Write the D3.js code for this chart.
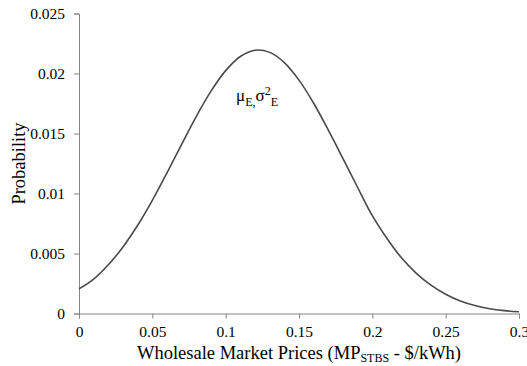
<!DOCTYPE html>
<html>
<head>
<meta charset="utf-8">
<script src="https://cdn.jsdelivr.net/npm/d3@7"></script>
<style>
  html, body { margin: 0; padding: 0; background: #fff; }
  svg { display: block; font-family: "Liberation Serif", "Times New Roman", serif; }
</style>
</head>
<body>
<svg id="chart" width="527" height="366"></svg>
<script>
// Wholesale market price (x, $/kWh) and probability density (y)
const prices = [0.00, 0.01, 0.02, 0.03, 0.04, 0.05, 0.06, 0.07, 0.08, 0.09,
                0.10, 0.11, 0.12, 0.13, 0.14, 0.15, 0.16, 0.17, 0.18, 0.19,
                0.20, 0.21, 0.22, 0.23, 0.24, 0.25, 0.26, 0.27, 0.28, 0.29, 0.30];
const probability = [0.00205, 0.00287, 0.00406, 0.00555, 0.00735, 0.00943, 0.01172, 0.01410, 0.01643, 0.01853,
                     0.02024, 0.02142, 0.02194, 0.02176, 0.02091, 0.01945, 0.01752, 0.01528, 0.01291, 0.01050,
                     0.00815, 0.00625, 0.00462, 0.00335, 0.00236, 0.00160, 0.00104, 0.00066, 0.00040, 0.00024, 0.00014];
const xTicks = [0, 0.05, 0.1, 0.15, 0.2, 0.25, 0.3];
const yTicks = [0, 0.005, 0.01, 0.015, 0.02, 0.025];
const xTickLabels = ["0", "0.05", "0.1", "0.15", "0.2", "0.25", "0.3"];
const yTickLabels = ["0", "0.005", "0.01", "0.015", "0.02", "0.025"];

const svg = d3.select("#chart");
const plotLeft = 79, plotRight = 519, plotTop = 13.5, plotBottom = 313.5;

const x = d3.scaleLinear().domain([0, 0.3]).range([plotLeft, plotRight]);
const y = d3.scaleLinear().domain([0, 0.025]).range([plotBottom, plotTop]);

const axisColor = "#868686";
const serif = "Liberation Serif, Times New Roman, serif";

// x axis
const gx = svg.append("g")
  .attr("transform", `translate(0,${plotBottom})`)
  .call(d3.axisBottom(x).tickValues(xTicks).tickSize(5).tickPadding(7)
        .tickFormat((d, i) => xTickLabels[i]));
gx.select(".domain").attr("stroke", axisColor);
gx.selectAll(".tick line").attr("stroke", axisColor);
gx.selectAll(".tick text").attr("fill", "#000").attr("font-size", "15.5px")
  .attr("font-family", serif);

// y axis
const gy = svg.append("g")
  .attr("transform", `translate(${plotLeft},0)`)
  .call(d3.axisLeft(y).tickValues(yTicks).tickSize(5).tickPadding(9)
        .tickFormat((d, i) => yTickLabels[i]));
gy.select(".domain").attr("stroke", axisColor);
gy.selectAll(".tick line").attr("stroke", axisColor);
gy.selectAll(".tick text").attr("fill", "#000").attr("font-size", "15.5px")
  .attr("font-family", serif);

// density curve
const points = prices.map((p, i) => [p, probability[i]]);
svg.append("path")
  .datum(points)
  .attr("fill", "none")
  .attr("stroke", "#4a4a4a")
  .attr("stroke-width", 1.6)
  .attr("d", d3.line().x(d => x(d[0])).y(d => y(d[1])).curve(d3.curveCatmullRom));

// axis titles
const xTitle = svg.append("text")
  .attr("x", 299)
  .attr("y", 359)
  .attr("text-anchor", "middle")
  .attr("font-size", "18.5px")
  .attr("fill", "#000");
xTitle.append("tspan").text("Wholesale Market Prices (MP");
xTitle.append("tspan").attr("font-size", "12px").attr("dy", 3).text("STBS");
xTitle.append("tspan").attr("dy", -3).text(" - $/kWh)");

svg.append("text")
  .attr("transform", `translate(25,${(plotTop + plotBottom) / 2}) rotate(-90)`)
  .attr("text-anchor", "middle")
  .attr("font-size", "18.5px")
  .attr("fill", "#000")
  .text("Probability");

// distribution parameters label
const lbl = svg.append("text")
  .attr("x", 236)
  .attr("y", 101)
  .attr("font-size", "17px")
  .attr("fill", "#000");
lbl.append("tspan").text("μ");
lbl.append("tspan").attr("font-size", "12px").attr("dy", 5).text("E,");
lbl.append("tspan").attr("dy", -5).text("σ");
lbl.append("tspan").attr("font-size", "12px").attr("dy", -6).text("2");
lbl.append("tspan").attr("font-size", "12px").attr("dy", 11).text("E");
</script>
</body>
</html>
